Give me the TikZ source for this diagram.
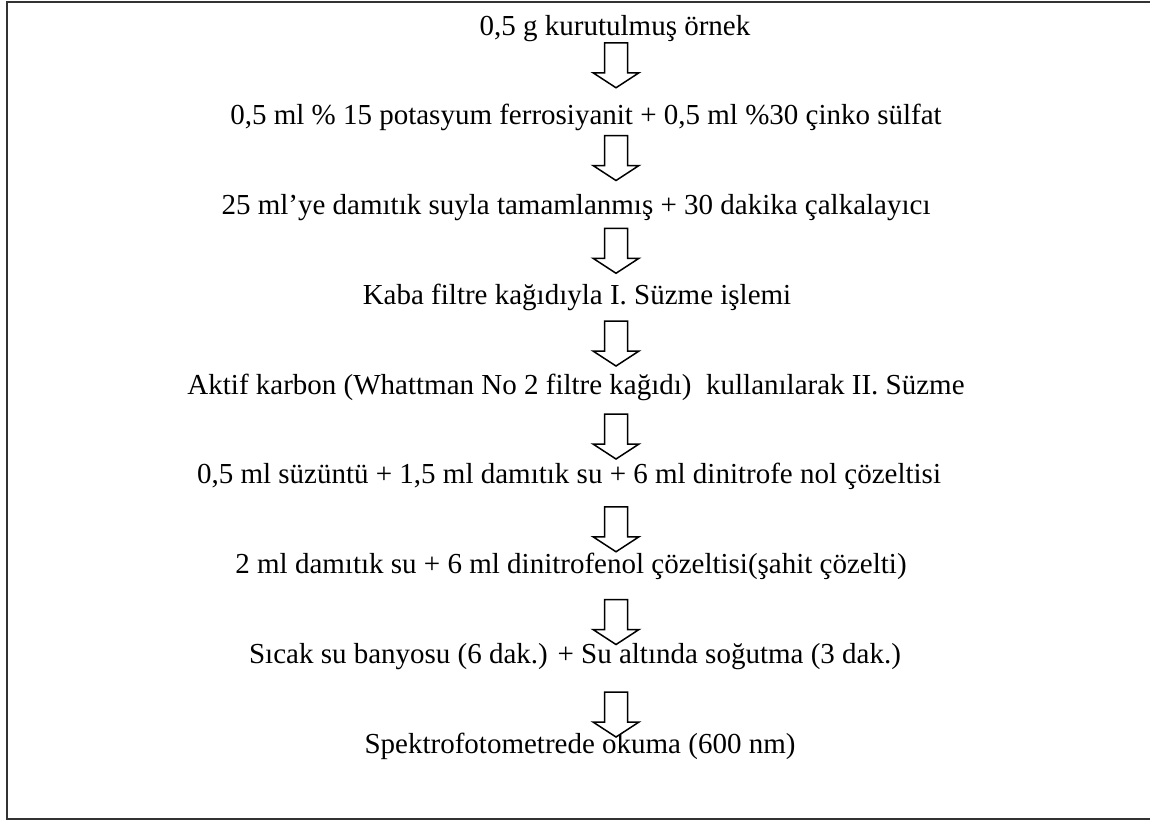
\documentclass[tikz,border=0pt]{standalone}
\usepackage{fontspec}
\setmainfont{Liberation Serif}
\begin{document}
\begin{tikzpicture}[x=0.5pt,y=-0.5pt,
  step text/.style={anchor=base,inner sep=0pt,font=\fontsize{14.5}{17}\selectfont},
  frame line/.style={line width=1pt,draw=black!80},
  block arrow/.style={line width=0.75pt,draw=black,fill=white}]
\useasboundingbox (0,0) rectangle (1150,821);
\draw[frame line] (1150,2) -- (7,2) -- (7,819) -- (1150,819);
\node[step text] (s1) at (615,35) {0,5 g kurutulmuş örnek};
\node[step text] (s2) at (586,124.75) {0,5 ml \% 15 potasyum ferrosiyanit + 0,5 ml \%30 çinko sülfat};
\node[step text] (s3) at (576,214.5) {25 ml’ye damıtık suyla tamamlanmış + 30 dakika çalkalayıcı};
\node[step text] (s4) at (577,304.25) {Kaba filtre kağıdıyla I. Süzme işlemi};
\node[step text] (s5) at (576,394) {Aktif karbon (Whattman No 2 filtre kağıdı)\ \ kullanılarak II. Süzme};
\node[step text] (s6) at (569,483.75) {0,5 ml süzüntü + 1,5 ml damıtık su + 6 ml dinitrofe nol çözeltisi};
\node[step text] (s7) at (571,573.5) {2 ml damıtık su + 6 ml dinitrofenol çözeltisi(şahit çözelti)};
\node[step text] (s8) at (575,663.25) {Sıcak su banyosu (6 dak.) + Su altında soğutma (3 dak.)};
\node[step text] (s9) at (580,753) {Spektrofotometrede okuma (600 nm)};
\foreach \t [count=\i] in {87.75,180.5,273.25,366,459,551.75,644.5,737} {
  \coordinate (a\i) at (616,\t);
  \draw[block arrow] ([shift={(-11.5,-45)}]a\i) -- ([shift={(11.5,-45)}]a\i)
    -- ([shift={(11.5,-15)}]a\i) -- ([shift={(23,-15)}]a\i) -- (a\i)
    -- ([shift={(-23,-15)}]a\i) -- ([shift={(-11.5,-15)}]a\i) -- cycle;
}
\end{tikzpicture}
\end{document}
